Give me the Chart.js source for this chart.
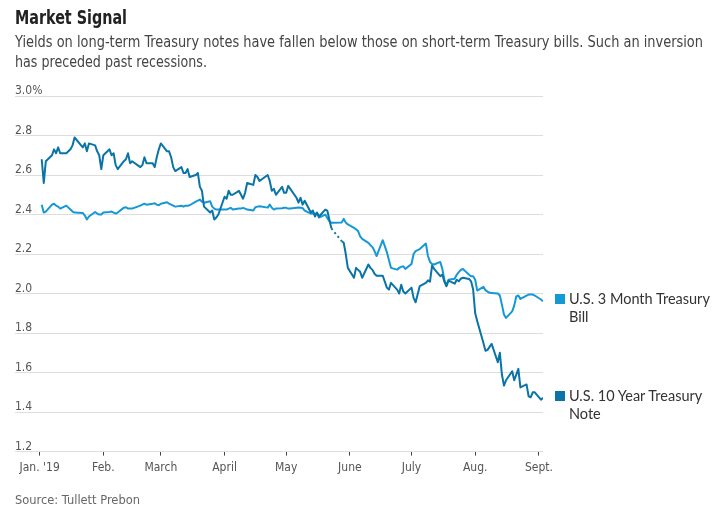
<!DOCTYPE html>
<html>
<head>
<meta charset="utf-8">
<script src="https://cdn.jsdelivr.net/npm/chart.js@4.4.1/dist/chart.umd.min.js"></script>
<style>
  html, body { margin: 0; padding: 0; background: #fff; }
  #wrap { position: relative; width: 727px; height: 518px; overflow: hidden; }
  #chart { position: absolute; left: 0; top: 0; }
  .txt { position: absolute; left: 15px; white-space: nowrap; transform-origin: 0 0;
         font-family: "DejaVu Sans Condensed", "Liberation Sans", sans-serif; }
  #title { top: 6px; font-size: 19px; font-weight: bold; color: #222; }
  .sub { font-size: 15.5px; line-height: 20px; color: #444; }
  #source { top: 492px; font-size: 13px; color: #666; }
  .leg { position: absolute; left: 555px; font-family: Lato, sans-serif; font-size: 14.5px; line-height: 18px; color: #333; }
  .leg i { position: absolute; left: 0; top: 4px; width: 10px; height: 10px; }
  .leg span { display: block; margin-left: 14px; }
</style>
</head>
<body>
<div id="wrap">
  <canvas id="chart" width="727" height="518"></canvas>
  <div id="title" class="txt" data-fit="112">Market Signal</div>
  <div class="txt sub" style="top:32px" data-fit="688">Yields on long-term Treasury notes have fallen below those on short-term Treasury bills. Such an inversion</div>
  <div class="txt sub" style="top:52px" data-fit="192">has preceded past recessions.</div>
  <div class="leg" style="top:290px"><i style="background:#1598d6"></i><span>U.S. 3 Month Treasury<br>Bill</span></div>
  <div class="leg" style="top:387px"><i style="background:#0b74a6"></i><span>U.S. 10 Year Treasury<br>Note</span></div>
  <div id="source" class="txt" data-fit="125">Source: Tullett Prebon</div>
</div>
<script>
document.addEventListener("DOMContentLoaded", function() {
    const colorBill = '#1598d6';
    const colorNote = '#0b74a6';
    const narrowFont = '"DejaVu Sans Condensed", "Liberation Sans", sans-serif';

    // squeeze the header / footer lines to the reference widths
    document.querySelectorAll('[data-fit]').forEach(el => {
        const w = el.getBoundingClientRect().width;
        el.style.transform = 'scaleX(' + (+el.dataset.fit / w) + ')';
    });

    // trading days, 2019 (MM-DD)
    const dates = [
        '01-02','01-03','01-04','01-07','01-08','01-09','01-10','01-11','01-14','01-15','01-16','01-17','01-18','01-22','01-23','01-24','01-25','01-28','01-29','01-30','01-31',
        '02-01','02-04','02-05','02-06','02-07','02-08','02-11','02-12','02-13','02-14','02-15','02-19','02-20','02-21','02-22','02-25','02-26','02-27','02-28',
        '03-01','03-04','03-05','03-06','03-07','03-08','03-11','03-12','03-13','03-14','03-15','03-18','03-19','03-20','03-21','03-22','03-25','03-26','03-27','03-28','03-29',
        '04-01','04-02','04-03','04-04','04-05','04-08','04-09','04-10','04-11','04-12','04-15','04-16','04-17','04-18','04-22','04-23','04-24','04-25','04-26','04-29','04-30',
        '05-01','05-02','05-03','05-06','05-07','05-08','05-09','05-10','05-13','05-14','05-15','05-16','05-17','05-20','05-21','05-22','05-23','05-24','05-28','05-29','05-30','05-31',
        '06-03','06-04','06-05','06-06','06-07','06-10','06-11','06-12','06-13','06-14','06-17','06-18','06-19','06-20','06-21','06-24','06-25','06-26','06-27','06-28',
        '07-01','07-02','07-03','07-05','07-08','07-09','07-10','07-11','07-12','07-15','07-16','07-17','07-18','07-19','07-22','07-23','07-24','07-25','07-26','07-29','07-30','07-31',
        '08-01','08-02','08-05','08-06','08-07','08-08','08-09','08-12','08-13','08-14','08-15','08-16','08-19','08-20','08-21','08-22','08-23','08-26','08-27','08-28','08-29','08-30',
        '09-02','09-03'
    ];

    // U.S. 3 Month Treasury Bill, %
    const bill3m = [
        2.45, 2.41, 2.415, 2.45, 2.455, 2.445, 2.44, 2.43, 2.445, 2.435, 2.425, 2.415, 2.41, 2.408, 2.395, 2.375, 2.39, 2.413, 2.405, 2.40, 2.40,
        2.41, 2.413, 2.415, 2.41, 2.405, 2.41, 2.435, 2.437, 2.43, 2.43, 2.43, 2.445, 2.45, 2.455, 2.45, 2.455, 2.457, 2.45, 2.447,
        2.455, 2.462, 2.455, 2.45, 2.445, 2.44, 2.445, 2.44, 2.445, 2.445, 2.447, 2.465, 2.47, 2.476, 2.465, 2.46, 2.467, 2.44, 2.43, 2.425, 2.425,
        2.425, 2.425, 2.43, 2.434, 2.425, 2.43, 2.43, 2.434, 2.43, 2.425, 2.42, 2.437, 2.44, 2.442, 2.435, 2.45, 2.434, 2.425, 2.43, 2.432, 2.434,
        2.434, 2.43, 2.43, 2.434, 2.435, 2.434, 2.433, 2.42, 2.405, 2.405, 2.404, 2.405, 2.385, 2.40, 2.383, 2.366, 2.358, 2.358, 2.36, 2.378, 2.36, 2.35,
        2.333, 2.325, 2.316, 2.29, 2.277, 2.257, 2.245, 2.235, 2.215, 2.19, 2.27, 2.24, 2.21, 2.17, 2.13, 2.121, 2.13, 2.135, 2.138, 2.125,
        2.15, 2.20, 2.215, 2.225, 2.253, 2.19, 2.16, 2.15, 2.147, 2.16, 2.125, 2.07, 2.04, 2.07, 2.075, 2.095, 2.108, 2.12, 2.125, 2.095, 2.088, 2.088,
        2.07, 2.015, 2.034, 2.017, 2.01, 2.004, 2.003, 2.0, 1.99, 1.944, 1.894, 1.877, 1.91, 1.939, 1.986, 1.99, 1.973, 1.99, 1.995, 1.995, 1.995, 1.99,
        1.97, 1.961
    ];

    // U.S. 10 Year Treasury Note, % (null = no quote)
    const note10y = [
        2.68, 2.56, 2.67, 2.70, 2.73, 2.71, 2.74, 2.71, 2.71, 2.72, 2.73, 2.75, 2.79, 2.74, 2.76, 2.72, 2.76, 2.75, 2.72, 2.70, 2.63,
        2.70, 2.73, 2.70, 2.71, 2.65, 2.63, 2.67, 2.68, 2.71, 2.66, 2.67, 2.64, 2.65, 2.69, 2.66, 2.66, 2.64, 2.69, 2.73,
        2.76, 2.72, 2.72, 2.69, 2.64, 2.62, 2.64, 2.61, 2.61, 2.63, 2.59, 2.60, 2.61, 2.54, 2.52, 2.44, 2.41, 2.42, 2.375, 2.385, 2.40,
        2.49, 2.48, 2.52, 2.50, 2.50, 2.52, 2.50, 2.48, 2.51, 2.56, 2.55, 2.60, 2.59, 2.57, 2.60, 2.57, 2.52, 2.53, 2.50, 2.54, 2.51,
        2.51, 2.545, 2.53, 2.485, 2.46, 2.485, 2.45, 2.47, 2.41, 2.42, 2.39, 2.41, 2.39, 2.425, 2.42, 2.375, 2.33, null, 2.265, 2.257, 2.20, 2.13,
        2.08, 2.13, 2.12, 2.11, 2.08, 2.147, 2.13, 2.12, 2.10, 2.09, 2.09, 2.06, 2.03, 2.02, 2.054, 2.02, 2.00, 2.045, 2.01, 2.00,
        2.03, 1.978, 1.956, 2.037, 2.054, 2.067, 2.06, 2.142, 2.125, 2.088, 2.096, 2.06, 2.037, 2.065, 2.05, 2.07, 2.062, 2.075, 2.08, 2.074, 2.062, 2.02,
        1.90, 1.86, 1.75, 1.71, 1.715, 1.73, 1.745, 1.652, 1.70, 1.59, 1.534, 1.561, 1.607, 1.561, 1.59, 1.619, 1.525, 1.54, 1.48, 1.475, 1.50, 1.50,
        1.463, 1.472
    ];

    // axis ticks
    const monthStarts = ['01-01','02-01','03-01','04-01','05-01','06-01','07-01','08-01','09-01'];
    const monthLabels = ["Jan. '19", 'Feb.', 'March', 'April', 'May', 'June', 'July', 'Aug.', 'Sept.'];
    const yTicks = [1.2, 1.4, 1.6, 1.8, 2.0, 2.2, 2.4, 2.6, 2.8, 3.0];
    const yTickLabels = ['1.2', '1.4', '1.6', '1.8', '2.0', '2.2', '2.4', '2.6', '2.8', '3.0%'];

    // day number since Jan. 1
    const toDay = s => (Date.UTC(2019, +s.slice(0, 2) - 1, +s.slice(3, 5)) - Date.UTC(2019, 0, 1)) / 864e5;
    const days = dates.map(toDay);
    const tickDays = monthStarts.map(toDay);

    const gapDash = ctx => (ctx.p0.skip || ctx.p1.skip) ? [2, 3] : undefined;

    const ctx = document.getElementById('chart').getContext('2d');
    new Chart(ctx, {
        type: 'line',
        data: {
            datasets: [
                {
                    label: 'U.S. 10 Year Treasury Note',
                    data: days.map((d, i) => ({ x: d, y: note10y[i] })),
                    borderColor: colorNote,
                    spanGaps: true,
                    segment: { borderDash: gapDash }
                },
                {
                    label: 'U.S. 3 Month Treasury Bill',
                    data: days.map((d, i) => ({ x: d, y: bill3m[i] })),
                    borderColor: colorBill
                }
            ]
        },
        options: {
            responsive: false,
            animation: false,
            layout: { padding: { left: 15, right: 184, top: 96, bottom: 38 } },
            elements: {
                point: { radius: 0 },
                line: { borderWidth: 2, tension: 0, borderJoinStyle: 'round' }
            },
            plugins: { legend: { display: false }, tooltip: { enabled: false } },
            scales: {
                x: {
                    type: 'linear',
                    min: -12,
                    max: toDay('09-03'),
                    afterBuildTicks: axis => { axis.ticks = tickDays.map(v => ({ value: v })); },
                    ticks: {
                        autoSkip: false,
                        maxRotation: 0,
                        padding: 5,
                        color: '#555',
                        font: { family: narrowFont, size: 12 },
                        callback: (v, i) => monthLabels[i]
                    },
                    grid: { drawOnChartArea: false, tickLength: 4, tickColor: '#444' },
                    border: { display: false }
                },
                y: {
                    min: 1.2,
                    max: 3.0,
                    afterBuildTicks: axis => { axis.ticks = yTicks.map(v => ({ value: v })); },
                    ticks: {
                        mirror: true,
                        padding: 0,
                        labelOffset: -5,
                        color: '#555',
                        font: { family: narrowFont, size: 12 },
                        callback: (v, i) => yTickLabels[i]
                    },
                    grid: { color: '#dddddd', drawTicks: false },
                    border: { display: false }
                }
            }
        }
    });
});
</script>
</body>
</html>
